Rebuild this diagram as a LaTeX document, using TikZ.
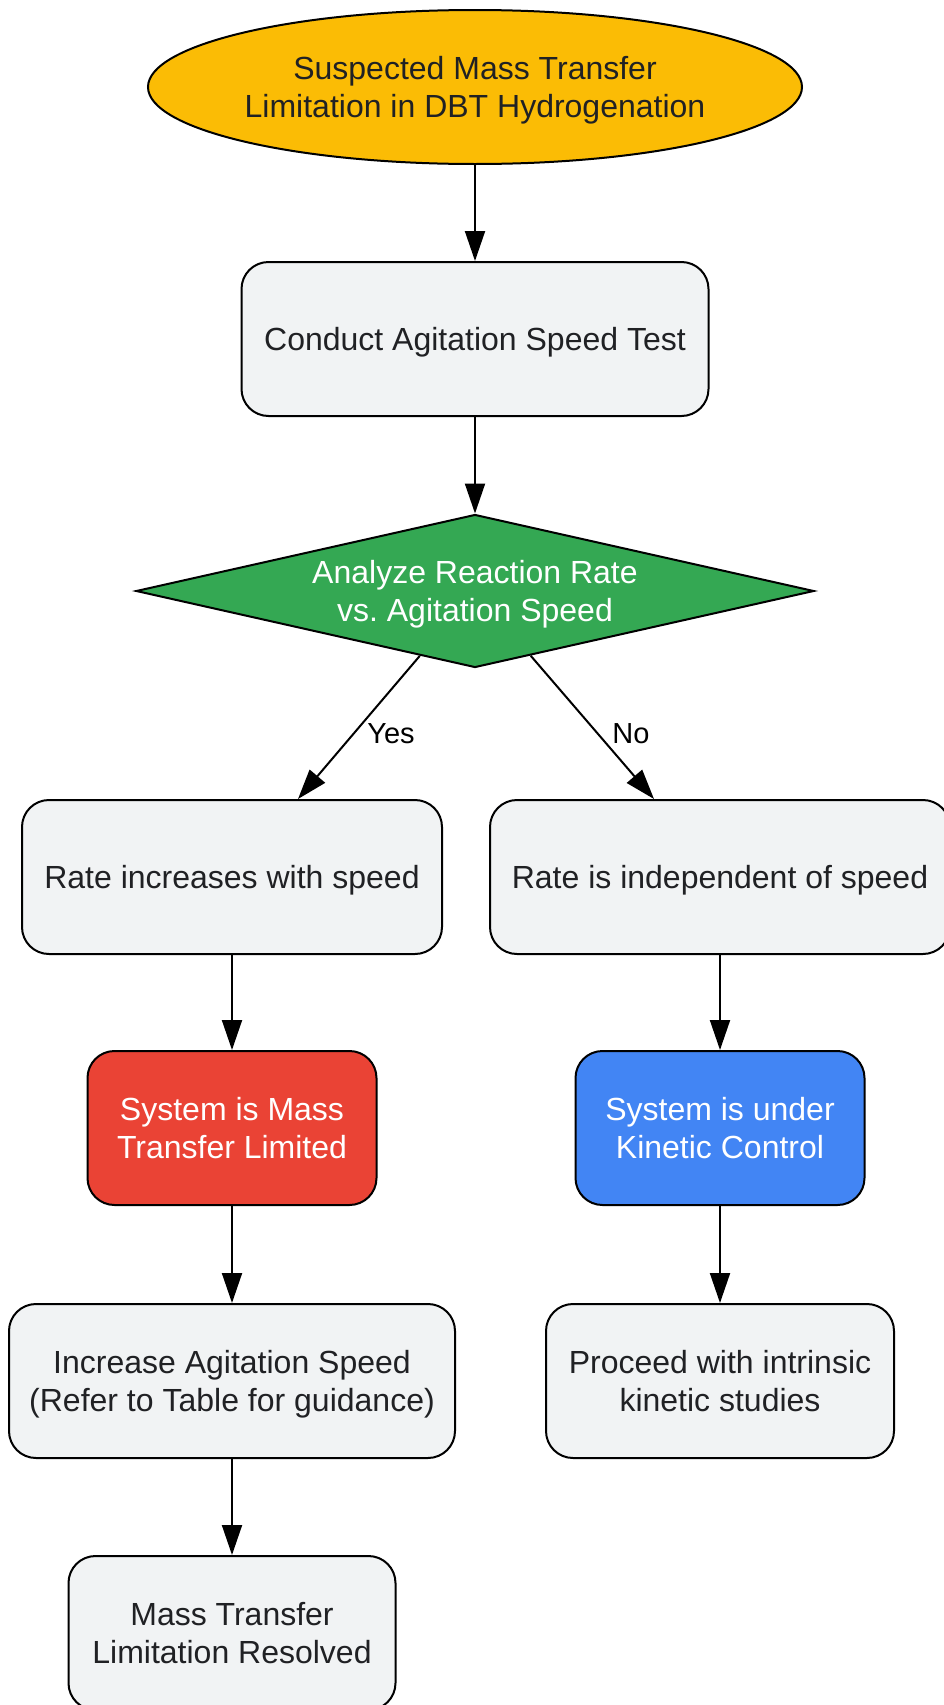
\documentclass[tikz,border=0pt]{standalone}
\usepackage{fontspec}
\setmainfont{Liberation Sans}
\frenchspacing
\usetikzlibrary{shapes.geometric,arrows.meta}
\definecolor{boxfill}{HTML}{F1F3F4}
\definecolor{txtdark}{HTML}{202124}
\definecolor{startfill}{HTML}{FBBC05}
\definecolor{greenfill}{HTML}{34A853}
\definecolor{redfill}{HTML}{EA4335}
\definecolor{bluefill}{HTML}{4285F4}
\newcommand{\topstrut}{\rule{0pt}{0.905em}}
\newcommand{\botstrut}{\rule[-0.212em]{0pt}{0pt}}
\tikzset{
  base/.style={draw=black, line width=2pt, align=center, inner sep=0pt,
    font=\fontsize{32}{38}\selectfont, text=txtdark},
  procbox/.style={base, rectangle, rounded corners=27pt, fill=boxfill, minimum height=154pt},
  startnode/.style={base, ellipse, fill=startfill, minimum width=654pt, minimum height=154pt},
  decision/.style={base, diamond, fill=greenfill, text=white, minimum width=678pt, minimum height=153pt, aspect=4.4},
  redbox/.style={procbox, fill=redfill, text=white},
  bluebox/.style={procbox, fill=bluefill, text=white},
  conn/.style={line width=2pt, -{Triangle[length=30pt,width=20pt]}},
  elabel/.style={font=\fontsize{29}{34}\selectfont, text=black}
}
\begin{document}
\begin{tikzpicture}[x=1pt,y=-1pt]
\useasboundingbox (0,0) rectangle (943,1705);
\node[startnode] (start) at (475,87) {\topstrut Suspected Mass Transfer\\Limitation in DBT Hydrogenation\botstrut};
\node[procbox, minimum width=467pt] (test) at (475,339) {\topstrut Conduct Agitation Speed Test\botstrut};
\node[decision] (dia) at (475,591) {\topstrut Analyze Reaction Rate\\vs. Agitation Speed\botstrut};
\node[procbox, minimum width=420pt] (left) at (232,877) {\topstrut Rate increases with speed\botstrut};
\node[procbox, minimum width=460pt] (right) at (720,877) {\topstrut Rate is independent of speed\botstrut};
\node[redbox, minimum width=289pt] (mtl) at (232,1128) {\topstrut System is Mass\\Transfer Limited\botstrut};
\node[bluebox, minimum width=289pt] (kin) at (720,1128) {\topstrut System is under\\Kinetic Control\botstrut};
\node[procbox, minimum width=446pt] (inc) at (232,1381) {\topstrut Increase Agitation Speed\\(Refer to Table for guidance)\botstrut};
\node[procbox, minimum width=348pt] (proc) at (720,1381) {\topstrut Proceed with intrinsic\\kinetic studies\botstrut};
\node[procbox, minimum width=327pt] (res) at (232,1633) {\topstrut Mass Transfer\\Limitation Resolved\botstrut};

\draw[conn] (start) -- (test);
\draw[conn] (test) -- (dia);
\draw[conn] (dia) -- ([xshift=66pt]left.north);
\draw[conn] (dia) -- ([xshift=-66pt]right.north);
\draw[conn] (left) -- (mtl);
\draw[conn] (right) -- (kin);
\draw[conn] (mtl) -- (inc);
\draw[conn] (kin) -- (proc);
\draw[conn] (inc) -- (res);
\node[elabel] (yes) at (391,734) {Yes};
\node[elabel] (no) at (631,734) {No};
\end{tikzpicture}
\end{document}
